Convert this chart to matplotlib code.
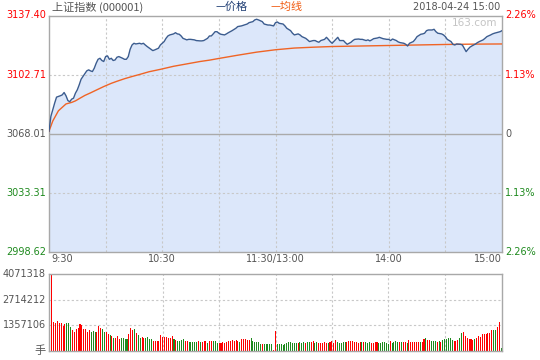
import numpy as np
import matplotlib
matplotlib.use('Agg')
import matplotlib.pyplot as plt
import matplotlib.transforms as mtransforms

plt.rcParams['font.family'] = ['DejaVu Sans', 'Noto Sans CJK SC']

# price chart data (minute index from 9:30, 0..240, lunch break removed)
price_min = [0, 1, 2, 3, 4, 6, 7, 8, 9, 10, 11, 12, 13, 14, 15, 16, 17, 18, 19, 20,
             21, 22, 23, 24, 25, 26, 27, 28, 29, 30, 31, 32, 33, 34, 35, 36, 37, 39, 40, 41,
             42, 43, 44, 45, 46, 48, 49, 50, 51, 52, 54, 55, 56, 58, 59, 61, 62, 63, 64, 66,
             67, 68, 69, 70, 71, 73, 74, 75, 77, 78, 80, 81, 82, 84, 85, 86, 87, 88, 89, 90,
             91, 93, 94, 95, 97, 99, 100, 102, 104, 105, 106, 108, 109, 110, 111, 113, 114, 116, 117, 119,
             120, 121, 122, 124, 125, 126, 128, 129, 130, 132, 133, 134, 136, 137, 138, 140, 141, 142, 143, 144,
             146, 147, 148, 149, 150, 152, 153, 154, 156, 157, 158, 160, 161, 162, 164, 165, 166, 168, 169, 170,
             171, 172, 174, 175, 176, 177, 179, 180, 181, 182, 184, 185, 186, 188, 189, 190, 191, 193, 194, 195,
             197, 198, 199, 200, 201, 203, 204, 205, 206, 208, 209, 210, 211, 213, 214, 215, 216, 218, 219, 220,
             221, 222, 223, 224, 226, 227, 228, 230, 231, 232, 234, 235, 236, 237, 239, 240]
price = [3069.5, 3078.2, 3082.1, 3086.0, 3089.5, 3090.3, 3090.8, 3092.2, 3090.3, 3087.5, 3086.8, 3088.3, 3088.9, 3091.8, 3093.8, 3096.7, 3100.0, 3101.6, 3103.1, 3104.9,
         3105.5, 3104.9, 3104.5, 3106.5, 3109.4, 3111.7, 3112.3, 3111.0, 3110.4, 3113.3, 3113.7, 3111.7, 3112.3, 3111.0, 3111.3, 3112.9, 3113.3, 3112.3, 3111.7, 3111.7,
         3113.3, 3117.6, 3120.1, 3121.1, 3120.7, 3121.1, 3120.7, 3121.1, 3120.1, 3119.2, 3117.6, 3116.8, 3117.2, 3118.2, 3120.1, 3122.1, 3124.0, 3125.4, 3126.0, 3126.6,
         3127.3, 3126.6, 3126.4, 3125.4, 3124.0, 3123.1, 3123.4, 3123.4, 3123.1, 3122.7, 3122.5, 3122.5, 3122.7, 3124.0, 3125.4, 3125.4, 3126.6, 3127.9, 3127.9, 3127.0,
         3126.4, 3126.0, 3126.6, 3127.3, 3128.5, 3129.9, 3130.9, 3131.3, 3132.0, 3132.4, 3133.2, 3133.8, 3134.8, 3135.2, 3134.8, 3133.8, 3132.4, 3131.8, 3131.8, 3131.3,
         3133.2, 3133.6, 3132.8, 3132.4, 3131.3, 3129.9, 3128.5, 3127.0, 3126.0, 3126.6, 3126.0, 3125.0, 3124.0, 3123.1, 3122.1, 3122.7, 3122.7, 3122.1, 3121.7, 3122.7,
         3123.4, 3124.6, 3123.4, 3122.1, 3121.1, 3123.4, 3124.6, 3122.7, 3122.7, 3121.5, 3120.5, 3121.7, 3122.7, 3123.4, 3123.6, 3123.4, 3123.4, 3122.7, 3123.1, 3122.5,
         3123.1, 3123.8, 3124.2, 3124.6, 3124.2, 3123.8, 3123.4, 3123.4, 3122.7, 3123.6, 3122.7, 3121.9, 3121.5, 3121.1, 3120.5, 3119.5, 3121.1, 3122.1, 3123.4, 3125.0,
         3126.4, 3126.6, 3127.0, 3128.5, 3128.9, 3128.9, 3129.3, 3127.9, 3127.0, 3126.6, 3126.0, 3125.0, 3123.4, 3122.1, 3120.5, 3120.1, 3120.7, 3120.5, 3120.1, 3118.2,
         3116.2, 3117.6, 3118.8, 3119.5, 3120.7, 3121.5, 3122.1, 3123.1, 3124.0, 3125.0, 3126.0, 3126.6, 3127.0, 3127.3, 3127.9, 3128.5]

avg_min = [0, 1, 2, 3, 5, 7, 9, 12, 14, 16, 19, 22, 25, 29, 33, 36, 40, 44, 48, 53,
           59, 66, 73, 80, 85, 90, 100, 110, 120, 130, 140, 150, 165, 180, 195, 210, 225, 240]
avg_price = [3069.5, 3072.5, 3075.5, 3077.5, 3081.5, 3083.5, 3085.5, 3086.4, 3087.3, 3088.6,
             3090.5, 3092.0, 3093.6, 3095.7, 3097.6, 3098.8, 3100.3, 3101.6, 3102.8, 3104.4,
             3105.8, 3107.6, 3109.0, 3110.4, 3111.2, 3112.2, 3114.1, 3115.9, 3117.3, 3118.3,
             3118.8, 3119.2, 3119.5, 3119.8, 3120.1, 3120.4, 3120.6, 3120.7]

# volume per minute (millions of shares) and up/down flag
vol = [1.12, 4.07, 1.53, 1.49, 1.60, 1.46, 1.49, 1.33, 1.44, 1.49,
       1.49, 1.28, 1.09, 1.01, 1.17, 1.23, 1.44, 1.37, 1.17, 1.17,
       1.01, 1.12, 1.01, 1.07, 1.01, 1.01, 1.33, 1.23, 1.17, 1.01,
       1.01, 0.90, 0.85, 0.80, 0.69, 0.69, 0.80, 0.64, 0.69, 0.69,
       0.64, 0.64, 0.90, 1.23, 1.12, 1.17, 0.96, 0.85, 0.69, 0.75,
       0.69, 0.69, 0.75, 0.64, 0.64, 0.53, 0.53, 0.53, 0.53, 0.85,
       0.75, 0.75, 0.75, 0.69, 0.69, 0.80, 0.64, 0.59, 0.53, 0.53,
       0.59, 0.64, 0.53, 0.53, 0.48, 0.48, 0.48, 0.48, 0.48, 0.53,
       0.48, 0.48, 0.53, 0.53, 0.43, 0.53, 0.53, 0.53, 0.53, 0.43,
       0.43, 0.43, 0.48, 0.43, 0.48, 0.53, 0.53, 0.59, 0.53, 0.59,
       0.53, 0.48, 0.64, 0.64, 0.64, 0.59, 0.59, 0.69, 0.53, 0.48,
       0.48, 0.48, 0.37, 0.37, 0.37, 0.37, 0.37, 0.37, 0.37, 0.05,
       1.07,
       0.37, 0.37, 0.37, 0.32, 0.37, 0.43, 0.48, 0.48, 0.43, 0.43,
       0.43, 0.43, 0.48, 0.43, 0.48, 0.43, 0.48, 0.48, 0.48, 0.53,
       0.43, 0.48, 0.43, 0.43, 0.43, 0.48, 0.43, 0.43, 0.48, 0.53,
       0.43, 0.59, 0.48, 0.43, 0.43, 0.48, 0.48, 0.48, 0.53, 0.53,
       0.53, 0.48, 0.48, 0.43, 0.48, 0.48, 0.48, 0.48, 0.43, 0.48,
       0.43, 0.43, 0.48, 0.48, 0.43, 0.43, 0.48, 0.48, 0.43, 0.37,
       0.53, 0.43, 0.48, 0.53, 0.48, 0.48, 0.48, 0.48, 0.48, 0.43,
       0.59, 0.48, 0.48, 0.48, 0.48, 0.48, 0.48, 0.48, 0.64, 0.69,
       0.59, 0.59, 0.53, 0.53, 0.53, 0.48, 0.53, 0.48, 0.59, 0.64,
       0.64, 0.69, 0.69, 0.59, 0.53, 0.53, 0.59, 0.71, 0.96, 1.01,
       0.80, 0.69, 0.64, 0.64, 0.59, 0.64, 0.69, 0.80, 0.75, 0.91,
       0.91, 0.91, 0.96, 0.96, 1.12, 1.12, 1.12, 1.28, 1.55, 0.16]
updown = ('RRRRRRRRRG' 'GGRRRRRRRR' 'RRGGGRRRGG' 'RRGRGRRRGG' 'GGRRRGRGGR'
          'RGGGGRRRRR' 'RRRRRRGRGG' 'GGRRGGGGGR' 'GRRRGRRGGG' 'RRRRRRRRRR'
          'RGRRRRRGGG' 'GGGRGGGGGR' 'R'
          'GGGGGGGGGG' 'GRGGGRGGRR' 'GGRRRRRGRR' 'RRGGGGGRRR' 'RRRRRGRGGG'
          'RRRRGGGGGG' 'RGGGGRGRRG' 'RRRRRRGRRG' 'RRGGGRGRGG' 'GGGGRRRGGR'
          'RRRRRGRRRR' 'RRRRRGGRRG')

vol_max = 4071318
prev_close = 3068.01
y_ticks = [3137.40, 3102.71, 3068.01, 3033.31, 2998.62]
y_labels = ['3137.40', '3102.71', '3068.01', '3033.31', '2998.62']
pct_labels = ['2.26%', '1.13%', '0', '1.13%', '2.26%']
vol_ticks = [4071318, 2714212, 1357106]
time_pos = [0, 60, 120, 180, 240]
time_labels = ['9:30', '10:30', '11:30/13:00', '14:00', '15:00']

RED = '#ff0000'
GREEN = '#1e8a1e'
GRAYTXT = '#555555'
GRID = '#c8c8c8'
BORDER = '#a8a8a8'
label_colors = [RED, RED, GRAYTXT, GREEN, GREEN]

fig = plt.figure(figsize=(5.4, 3.6), dpi=100)
fig.patch.set_facecolor('white')
ax = fig.add_axes([49 / 540, 1 - 252 / 360, 453 / 540, 236.5 / 360])
axv = fig.add_axes([49 / 540, 1 - 351 / 360, 453 / 540, 77 / 360])

# main price panel
ax.fill_between(price_min, price, y_ticks[-1], color='#dce7fa', lw=0, zorder=1)
ax.plot(price_min, price, color='#3b5c8f', lw=1.0, zorder=4)
ax.plot(avg_min, avg_price, color='#f06425', lw=1.0, zorder=3)
for m in [30, 60, 90, 120, 150, 180, 210]:
    ax.axvline(m, color=GRID, lw=0.8, ls=(0, (2, 2)), zorder=2)
    axv.axvline(m, color=GRID, lw=0.8, ls=(0, (2, 2)), zorder=0)
for v in [y_ticks[1], y_ticks[3]]:
    ax.axhline(v, color=GRID, lw=0.8, ls=(0, (2, 2)), zorder=2)
ax.axhline(prev_close, color='#aaaaaa', lw=1.0, zorder=2)
ax.set_xlim(0, 240)
ax.set_ylim(y_ticks[-1], y_ticks[0])
ax.set_xticks([])
ax.set_yticks([])

trans = mtransforms.blended_transform_factory(ax.transAxes, ax.transData)
for v, lab, pl, c in zip(y_ticks, y_labels, pct_labels, label_colors):
    ax.text(-0.007, v, lab, transform=trans, ha='right', va='center', fontsize=7, color=c)
    ax.text(1.007, v, pl, transform=trans, ha='left', va='center', fontsize=7, color=c)

tx = mtransforms.blended_transform_factory(ax.transData, fig.transFigure)
for m, lab in zip(time_pos, time_labels):
    ha = 'center'
    xm = m
    if m == 0:
        ha = 'left'
        xm = 1.5
    elif m == 240:
        ha = 'right'
    ax.text(xm, 1 - 259 / 360, lab, transform=tx, ha=ha, va='center', fontsize=7, color=GRAYTXT)

# volume panel
xs = np.arange(len(vol))
colors = [RED if c == 'R' else GREEN for c in updown[:len(vol)]]
axv.bar(xs, np.array(vol) * 1e6, width=0.55, color=colors, lw=0, zorder=2, antialiased=False)
for v in vol_ticks[1:]:
    axv.axhline(v, color=GRID, lw=0.8, ls=(0, (2, 2)), zorder=0)
axv.set_xlim(-0.5, 240.5)
axv.set_ylim(0, vol_max)
axv.set_xticks([])
axv.set_yticks([])
transv = mtransforms.blended_transform_factory(axv.transAxes, axv.transData)
for v in vol_ticks:
    axv.text(-0.007, v, str(v), transform=transv, ha='right', va='center', fontsize=7, color=GRAYTXT)
axv.text(-0.007, 0, '手', transform=transv, ha='right', va='center', fontsize=8,
         color=GRAYTXT, family=['Noto Sans CJK SC', 'DejaVu Sans'])

for a in (ax, axv):
    for s in a.spines.values():
        s.set_color(BORDER)
        s.set_linewidth(1.0)

# header texts
cjk = ['Noto Sans CJK SC', 'DejaVu Sans']
fig.text(52 / 540, 1 - 7 / 360, '上证指数 (000001)', ha='left', va='center', fontsize=8,
         color=GRAYTXT, family=cjk)
fig.text(215 / 540, 1 - 7 / 360, '—价格', ha='left', va='center', fontsize=8,
         color='#1f3d73', family=cjk)
fig.text(270 / 540, 1 - 7 / 360, '—均线', ha='left', va='center', fontsize=8,
         color='#f05a10', family=cjk)
fig.text(500 / 540, 1 - 7 / 360, '2018-04-24 15:00', ha='right', va='center', fontsize=7,
         color=GRAYTXT)
fig.text(497 / 540, 1 - 23 / 360, '163.com', ha='right', va='center', fontsize=7.5,
         color='#c4c4c4')

fig.savefig('out.png', dpi=100, facecolor='white')
